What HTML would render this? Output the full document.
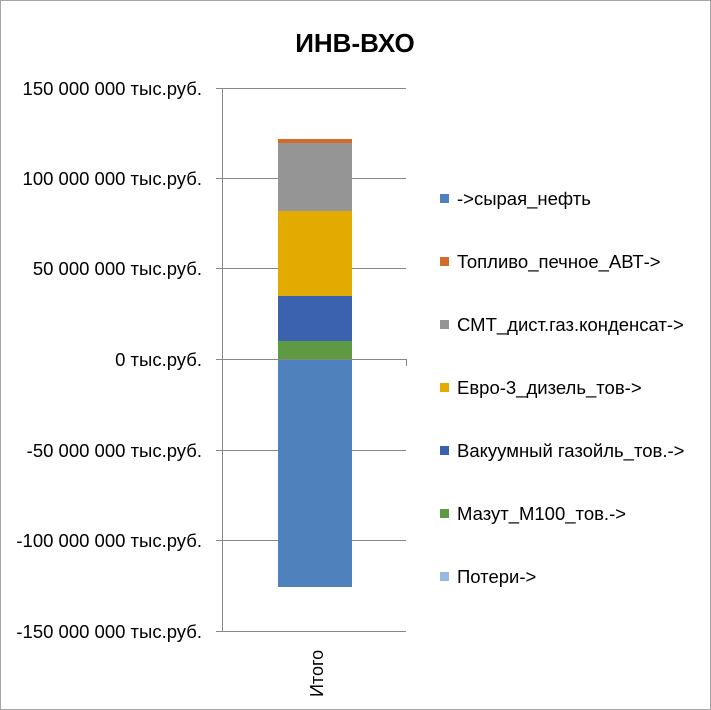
<!DOCTYPE html>
<html><head><meta charset="utf-8"><style>
body{margin:0;background:#fff}
svg{display:block}
text{font-family:"Liberation Sans","DejaVu Sans",sans-serif}
</style></head><body>
<svg width="711" height="710" xmlns="http://www.w3.org/2000/svg">
<rect x="0.5" y="0.5" width="710" height="709" fill="#fff" stroke="#a6a6a6"/>
<text x="355" y="52" font-size="26" font-weight="bold" text-anchor="middle">ИНВ-ВХО</text>
<g stroke="#868686" stroke-width="1">
<line x1="216" y1="88.5" x2="406" y2="88.5"/>
<line x1="216" y1="178.5" x2="406" y2="178.5"/>
<line x1="216" y1="268.5" x2="406" y2="268.5"/>
<line x1="216" y1="450.5" x2="406" y2="450.5"/>
<line x1="216" y1="540.5" x2="406" y2="540.5"/>
<line x1="216" y1="631.5" x2="406" y2="631.5"/>
</g>
<rect x="278" y="359" width="74" height="228" fill="#4f81bd"/>
<rect x="278" y="341" width="74" height="18" fill="#5e9a41"/>
<rect x="278" y="296" width="74" height="45" fill="#3a62ae"/>
<rect x="278" y="211" width="74" height="85" fill="#e3aa00"/>
<rect x="278" y="143" width="74" height="68" fill="#959595"/>
<rect x="278" y="139" width="74" height="4" fill="#d46b28"/>
<g stroke="#868686" stroke-width="1">
<line x1="222.5" y1="88" x2="222.5" y2="631"/>
<line x1="216" y1="359.5" x2="406" y2="359.5"/>
<line x1="406.5" y1="359" x2="406.5" y2="366"/>
</g>
<g font-size="18.5" text-anchor="end" fill="#000">
<text x="202" y="95">150 000 000 тыс.руб.</text>
<text x="202" y="185">100 000 000 тыс.руб.</text>
<text x="202" y="275">50 000 000 тыс.руб.</text>
<text x="202" y="366">0 тыс.руб.</text>
<text x="202" y="457">-50 000 000 тыс.руб.</text>
<text x="202" y="547">-100 000 000 тыс.руб.</text>
<text x="202" y="638">-150 000 000 тыс.руб.</text>
</g>
<text transform="translate(323,697) rotate(-90)" font-size="18">Итого</text>
<g font-size="18.5">
<rect x="440" y="194" width="9" height="9" fill="#4f81bd"/><text x="457" y="205">-&gt;сырая_нефть</text>
<rect x="440" y="257" width="9" height="9" fill="#d46b28"/><text x="457" y="268">Топливо_печное_АВТ-&gt;</text>
<rect x="440" y="320" width="9" height="9" fill="#959595"/><text x="457" y="331">СМТ_дист.газ.конденсат-&gt;</text>
<rect x="440" y="383" width="9" height="9" fill="#e3aa00"/><text x="457" y="394">Евро-3_дизель_тов-&gt;</text>
<rect x="440" y="446" width="9" height="9" fill="#3a62ae"/><text x="457" y="457">Вакуумный газойль_тов.-&gt;</text>
<rect x="440" y="509" width="9" height="9" fill="#5e9a41"/><text x="457" y="520">Мазут_М100_тов.-&gt;</text>
<rect x="440" y="572" width="9" height="9" fill="#95b9e0"/><text x="457" y="583">Потери-&gt;</text>
</g>
</svg>
</body></html>
